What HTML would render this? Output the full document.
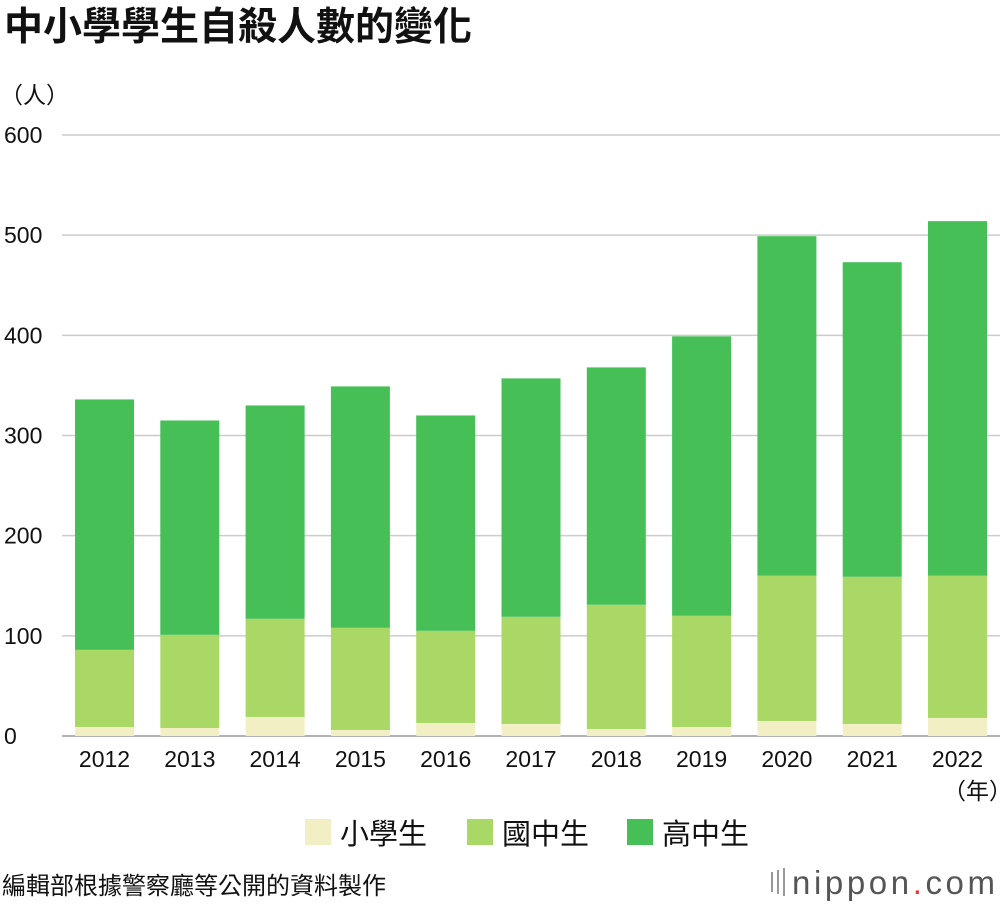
<!DOCTYPE html>
<html><head><meta charset="utf-8">
<style>
body{margin:0;background:#fff;width:1000px;height:906px;overflow:hidden;font-family:"Liberation Sans","Noto Sans CJK TC",sans-serif;}
svg text{font-family:"Liberation Sans","Noto Sans CJK TC",sans-serif;}
</style></head>
<body>
<svg id="chart" width="1000" height="906" xmlns="http://www.w3.org/2000/svg">
<text x="4" y="40" font-size="39" font-weight="bold" fill="#111">中小學學生自殺人數的變化</text>
<text x="0" y="103" font-size="23" fill="#111">（人）</text>
<g id="grid"></g>
<g id="bars"></g>
<g id="xlabels"></g>
<text x="943" y="799" font-size="23" fill="#111">（年）</text>
<g>
<rect x="305" y="819" width="26" height="26" fill="#f2efc4"/>
<text x="340" y="844" font-size="29" fill="#111">小學生</text>
<rect x="467" y="819" width="26" height="26" fill="#a9d867"/>
<text x="502" y="844" font-size="29" fill="#111">國中生</text>
<rect x="627" y="819" width="26" height="26" fill="#46bf57"/>
<text x="662" y="844" font-size="29" fill="#111">高中生</text>
</g>
<text x="2" y="894" font-size="24" fill="#111">編輯部根據警察廳等公開的資料製作</text>
<g>
<rect x="771" y="872" width="2" height="20" fill="#999"/><rect x="777" y="870" width="2" height="24" fill="#999"/><rect x="783" y="868" width="2" height="28" fill="#999"/>
<text x="792" y="894" font-size="33" fill="#555" textLength="203">nippon<tspan fill="#e33">.</tspan>com</text>
</g>
</svg>
<script>
const categories=["2012","2013","2014","2015","2016","2017","2018","2019","2020","2021","2022"];
const elementary=[9,8,19,6,13,12,7,9,15,12,18];
const juniorHigh=[77,93,98,102,92,107,124,111,145,147,142];
const seniorHigh=[250,214,213,241,215,238,237,279,339,314,354];
const yTicks=[0,100,200,300,400,500,600];
const NS="http://www.w3.org/2000/svg";
const y0=736,pxPer=601/600;
function yS(v){return y0-v*pxPer;}
const step=85.3,bw=59;
function xC(i){return 104.5+i*step;}
const grid=document.getElementById('grid');
yTicks.forEach(t=>{
 const l=document.createElementNS(NS,'line');
 
 
 l.setAttribute('x1',62);l.setAttribute('x2',1000);
 l.setAttribute('y1',yS(t));l.setAttribute('y2',yS(t));
 l.setAttribute('stroke',t===0?'#999':'#ccc');l.setAttribute('stroke-width',1.5);
 grid.appendChild(l);
 const tx=document.createElementNS(NS,'text');
 
 
 tx.setAttribute('x',4);tx.setAttribute('y',yS(t)+8);
 tx.setAttribute('font-size',23);tx.setAttribute('fill','#111');
 tx.textContent=t;grid.appendChild(tx);
});
const bars=document.getElementById('bars');
const series=[[elementary,'#f2efc4','elementary'],[juniorHigh,'#a9d867','junior-high'],[seniorHigh,'#46bf57','senior-high']];
categories.forEach((c,i)=>{
 let base=0;
 series.forEach(s=>{
  const v=s[0][i];
  const r=document.createElementNS(NS,'rect');
  
  
  r.setAttribute('x',xC(i)-bw/2);r.setAttribute('width',bw);
  r.setAttribute('y',yS(base+v));r.setAttribute('height',v*pxPer);
  r.setAttribute('fill',s[1]);
  bars.appendChild(r);
  base+=v;
 });
 const tx=document.createElementNS(NS,'text');
 
 
 tx.setAttribute('x',xC(i));tx.setAttribute('y',767);
 tx.setAttribute('text-anchor','middle');
 tx.setAttribute('font-size',23);tx.setAttribute('fill','#111');
 tx.textContent=c;document.getElementById('xlabels').appendChild(tx);
});
</script>
</body></html>
